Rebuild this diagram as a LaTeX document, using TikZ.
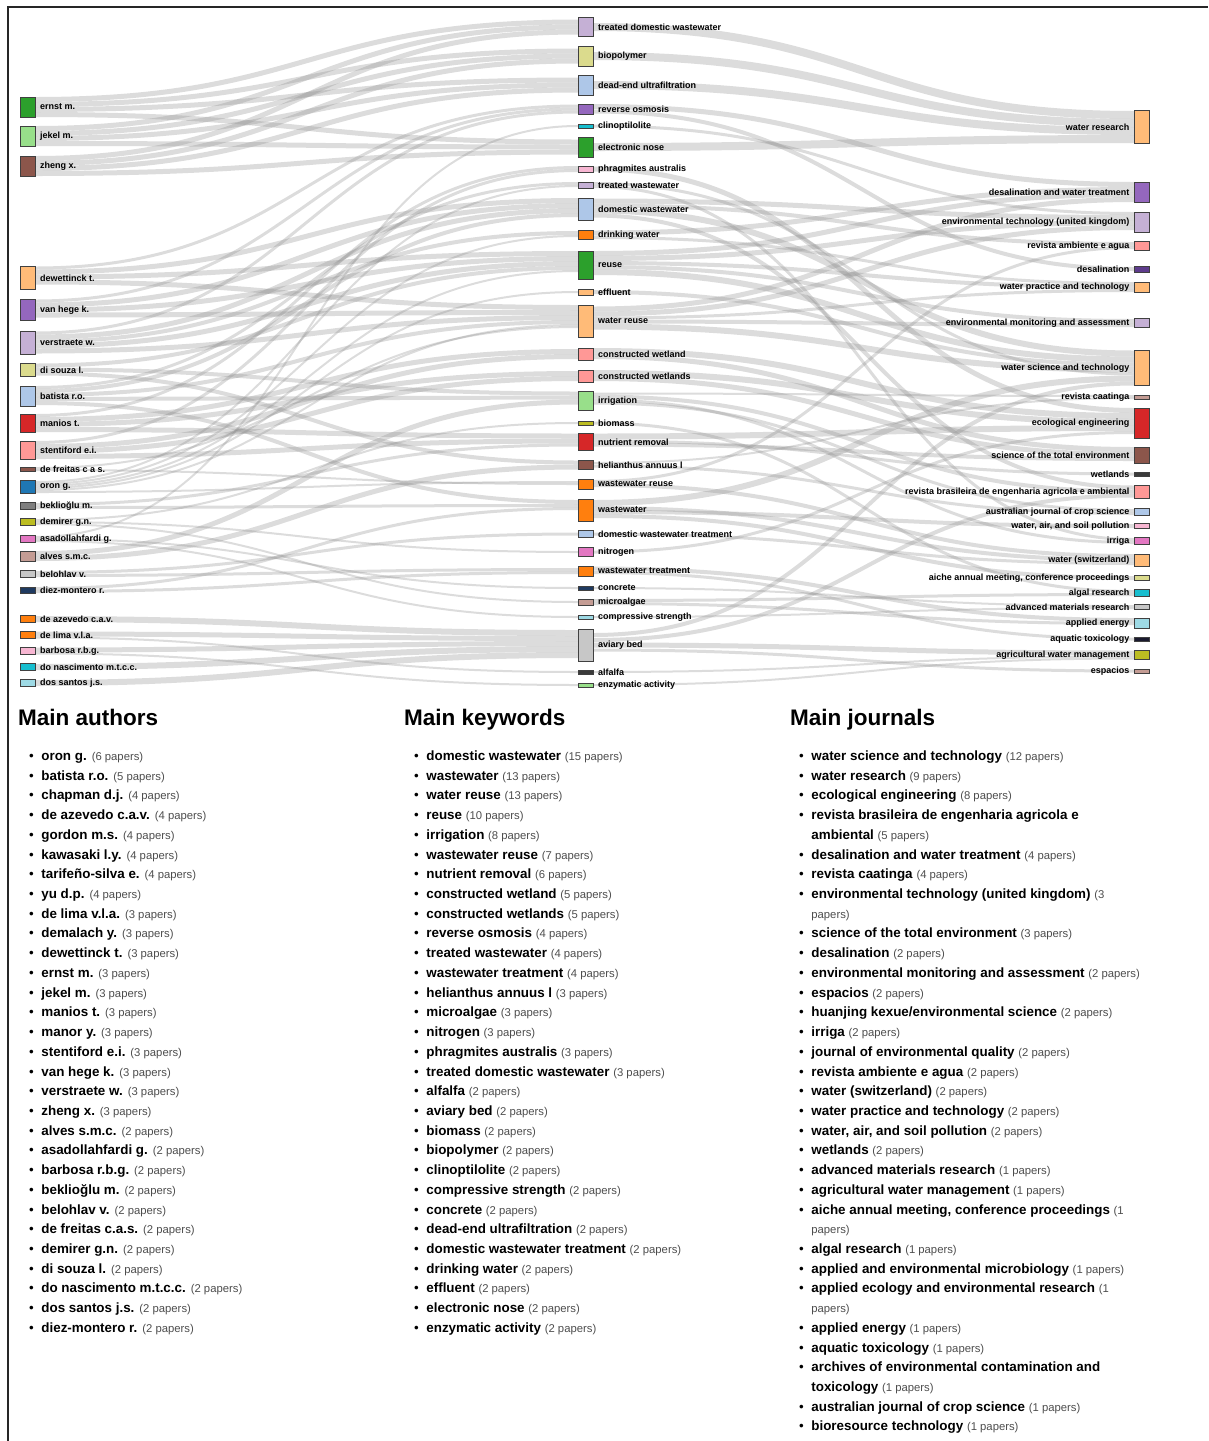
\documentclass[tikz,border=0pt]{standalone}
\usepackage{fontspec}
\setmainfont{Liberation Sans}
\usetikzlibrary{positioning}
\pgfdeclarelayer{bg}
\pgfsetlayers{bg,main}

\definecolor{c1}{HTML}{1F77B4}\definecolor{c2}{HTML}{AEC7E8}
\definecolor{c3}{HTML}{FF7F0E}\definecolor{c4}{HTML}{FFBB78}
\definecolor{c5}{HTML}{2CA02C}\definecolor{c6}{HTML}{98DF8A}
\definecolor{c7}{HTML}{D62728}\definecolor{c8}{HTML}{FF9896}
\definecolor{c9}{HTML}{9467BD}\definecolor{c10}{HTML}{C5B0D5}
\definecolor{c11}{HTML}{8C564B}\definecolor{c12}{HTML}{C49C94}
\definecolor{c13}{HTML}{E377C2}\definecolor{c14}{HTML}{F7B6D2}
\definecolor{c15}{HTML}{7F7F7F}\definecolor{c16}{HTML}{C7C7C7}
\definecolor{c17}{HTML}{BCBD22}\definecolor{c18}{HTML}{DBDB8D}
\definecolor{c19}{HTML}{17BECF}\definecolor{c20}{HTML}{9EDAE5}
\definecolor{cnavy}{HTML}{1F3A60}\definecolor{cdpur}{HTML}{5E3C8C}
\definecolor{cdark}{HTML}{3A3A3A}\definecolor{cblk}{HTML}{1A1A2E}
\definecolor{pgray}{HTML}{4D4D4D}

\newcommand{\gr}[1]{{\fontsize{11.3}{13}\selectfont\color{pgray}#1}}
\newcommand{\ent}[2]{\textbullet & \textbf{#1} \gr{(#2 papers)}\\}

\tikzset{
  bx/.style={draw=black!75, line width=0.8pt, minimum width=15pt, inner sep=0pt, outer sep=0pt},
  alab/.style={font=\fontsize{9}{10}\selectfont\bfseries, inner sep=0pt},
  lnk/.style={draw=black!45, draw opacity=0.3},
  hd/.style={font=\fontsize{22.5}{26}\selectfont\bfseries, inner sep=0pt},
  lst/.style={font=\fontsize{13.4}{19.72}\selectfont, inner sep=0pt}
}

\begin{document}
\begin{tikzpicture}[x=1pt,y=-1pt]
\useasboundingbox (0,0) rectangle (1208,1441);
\draw[line width=1.6pt, black!85] (8,1441) -- (8,7) -- (1208,7);

%% authors
\foreach \nm/\yy/\hh/\col/\lbl in {ernst/107/20/c5/ernst m., jekel/136/20/c6/jekel m., zheng/166/20/c11/zheng x.,
  dewet/278/23/c4/dewettinck t., vanhege/310/21/c9/van hege k., verstr/343/23/c10/verstraete w.,
  disouza/370/13/c18/di souza l., batista/396/20/c2/batista r.o., manios/423/18/c7/manios t.,
  stent/450/18/c8/stentiford e.i., defreitas/469/4/c11/de freitas c a s., oron/487/13/c1/oron g.,
  beklio/506/7/c15/beklioğlu m., demirer/522/7/c17/demirer g.n., asadol/539/7/c13/asadollahfardi g.,
  alves/556/10/c12/alves s.m.c., belohlav/574/7/c16/belohlav v., diez/590/6/cnavy/diez-montero r.,
  deazev/619/7/c3/de azevedo c.a.v., delima/635/7/c3/de lima v.l.a., barbosa/651/7/c14/barbosa r.b.g.,
  donasc/667/7/c19/do nascimento m.t.c.c., dossantos/683/7/c20/dos santos j.s.}{
  \node[bx, fill=\col, minimum height=\hh pt] (\nm) at (27.5,\yy) {};
  \node[alab, right=5pt of \nm] (\nm-l) {\lbl};
}

%% keywords
\foreach \nm/\yy/\hh/\col/\lbl in {tdw/27/19/c10/treated domestic wastewater, biopol/56/20/c18/biopolymer,
  deadend/85/20/c2/dead-end ultrafiltration, revosm/109/10/c9/reverse osmosis, clino/126/4/c19/clinoptilolite,
  enose/147/20/c5/electronic nose, phrag/169/6/c14/phragmites australis, tww/185/6/c10/treated wastewater,
  domww/209/22/c2/domestic wastewater, drink/235/9/c3/drinking water, reuse/265/28/c5/reuse,
  effl/292/6/c4/effluent, wreuse/321/32/c4/water reuse, cw/354/12/c8/constructed wetland,
  cws/376/12/c8/constructed wetlands, irrig/401/19/c6/irrigation, biomass/423/4/c17/biomass,
  nutrem/442/17/c7/nutrient removal, helian/465/9/c11/helianthus annuus l, wwreuse/484/10/c3/wastewater reuse,
  ww/510/22/c3/wastewater, dwwt/534/7/c2/domestic wastewater treatment, nitro/552/9/c13/nitrogen,
  wwtreat/571/10/c3/wastewater treatment, concr/588/4/cnavy/concrete, microalg/602/6/c12/microalgae,
  compr/617/4/c20/compressive strength, aviary/645/32/c16/aviary bed, alfalfa/672/4/cdark/alfalfa,
  enzym/685/4/c6/enzymatic activity}{
  \node[bx, fill=\col, minimum height=\hh pt] (\nm) at (585.5,\yy) {};
  \node[alab, right=5pt of \nm] (\nm-l) {\lbl};
}

%% journals
\foreach \nm/\yy/\hh/\col/\lbl in {wr/127/33/c4/water research, dwt/192/20/c9/desalination and water treatment,
  etuk/222/20/c10/environmental technology (united kingdom), raa/246/9/c8/revista ambiente e agua,
  desal/269/6/cdpur/desalination, wpt/287/10/c4/water practice and technology,
  ema/323/9/c10/environmental monitoring and assessment, wst/368/35/c4/water science and technology,
  rc/397/4/c12/revista caatinga, ee/423/30/c7/ecological engineering,
  stoe/455/16/c11/science of the total environment, wet/474/4/cdark/wetlands,
  rbea/492/13/c8/revista brasileira de engenharia agricola e ambiental,
  ajcs/512/7/c2/australian journal of crop science, wasp/526/5/c14/{water, air, and soil pollution},
  irriga/541/7/c13/irriga, wsw/560/12/c4/water (switzerland),
  aiche/578/5/c18/{aiche annual meeting, conference proceedings}, algal/593/7/c19/algal research,
  amr/607/5/c16/advanced materials research, ae/623/10/c20/applied energy, aqt/639/4/cblk/aquatic toxicology,
  awm/655/9/c17/agricultural water management, esp/671/4/c12/espacios}{
  \node[bx, fill=\col, minimum height=\hh pt] (\nm) at (1142,\yy) {};
  \node[alab, left=5pt of \nm] (\nm-l) {\lbl};
}

\begin{pgfonlayer}{bg}
%% authors -> keywords
\foreach \a/\da/\b/\db/\w in {ernst/-7.5/tdw/-5/5, ernst/-2.5/biopol/-5/5, ernst/2.5/deadend/-5/5, ernst/7.5/enose/-5/5,
  jekel/-7.5/tdw/0/5, jekel/-2.5/biopol/0/5, jekel/2.5/deadend/0/5, jekel/7.5/enose/0/5,
  zheng/-7.5/tdw/5/5, zheng/-2.5/biopol/5/5, zheng/2.5/deadend/5/5, zheng/7.5/enose/5/5,
  dewet/-10/revosm/-3/3, dewet/-6/domww/-8.5/5, dewet/-1/reuse/-11.5/5, dewet/4/wreuse/-13.5/5,
  vanhege/-9/revosm/0/3, vanhege/-5/domww/-3.5/5, vanhege/0/reuse/-6.5/5, vanhege/5/wreuse/-8.5/5,
  verstr/-10/revosm/3/3, verstr/-6/domww/1.5/5, verstr/-1.5/drink/-2/4, verstr/3/reuse/-1.5/5, verstr/8/wreuse/-3.5/5,
  disouza/-4.5/reuse/3/4, disouza/-0.5/irrig/-7.5/4, disouza/3.5/helian/-2.5/4,
  batista/-8.5/tww/-1.5/3, batista/-5/domww/6/4, batista/-1/wreuse/1/4, batista/3/irrig/-3.5/4, batista/7/ww/-8/4,
  manios/-7.5/phrag/-1.5/3, manios/-3.5/cw/-2.5/5, manios/1.5/cws/-2.5/5, manios/6.5/nutrem/-6/5,
  stent/-7.5/phrag/1.5/3, stent/-3.5/cw/2.5/5, stent/1.5/cws/2.5/5, stent/6.5/nutrem/-1/5,
  defreitas/-1/wreuse/6/2, defreitas/1/wwreuse/0/2,
  oron/-5/tww/1/2, oron/-3/drink/1/2, oron/-1/reuse/6/2, oron/1/effl/0/2, oron/3/wreuse/4/2, oron/5/wwreuse/-2/2,
  beklio/-1.5/nutrem/3/3, beklio/1.5/ww/-4.5/3,
  demirer/-2/biomass/0/2, demirer/0/nitro/0/2, demirer/2/microalg/0/2,
  asadol/-2/clino/0/2, asadol/0/concr/0/2, asadol/2/compr/0/2,
  alves/-2.5/irrig/1/5, alves/2.5/helian/2/5,
  belohlav/-1.5/dwwt/0/3, belohlav/1.5/wwtreat/-1.5/3,
  diez/-1.5/ww/-1.5/3, diez/1.5/wwtreat/1.5/3,
  deazev/0/aviary/-12/6, delima/-1/aviary/-6.5/5, delima/2.5/alfalfa/0/2, barbosa/-1/aviary/-1.5/5,
  barbosa/2.5/enzym/0/2, donasc/0/aviary/4/6, dossantos/0/aviary/10/6}
  \draw[lnk, line width=\w pt] ([yshift={-(\da)*1pt}]\a.east) .. controls +(271,0) and +(-271,0) .. ([yshift={-(\db)*1pt}]\b.west);

%% keywords -> journals
\foreach \a/\da/\b/\db/\w in {tdw/0/wr/-12/8, biopol/0/wr/-4/8, deadend/0/wr/4/8, enose/0/wr/12/8,
  revosm/-2.5/dwt/-7.5/5, revosm/2.5/desal/0/4, clino/0/etuk/-8.5/3, phrag/0/ee/-12.5/5,
  tww/-1.5/wst/6/3, tww/1.5/irriga/-1.5/3,
  domww/-8/etuk/-4.5/5, domww/-3.5/raa/-2/4, domww/1.5/wst/-14.5/6, domww/6.5/rbea/-4.5/4,
  drink/-2/dwt/-2.5/5, drink/2.5/wpt/-3.5/3,
  reuse/-11.5/dwt/2.5/5, reuse/-6.5/etuk/0.5/5, reuse/-2/wpt/0/4, reuse/2/ema/-2/4, reuse/7/wst/-8.5/6,
  effl/0/wst/-3.5/4,
  wreuse/-12/dwt/7.5/5, wreuse/-7/etuk/5.5/5, wreuse/-3/wpt/3.5/3, wreuse/0.5/ema/2/4, wreuse/5.5/wst/1.5/6,
  cw/-3/ee/-7/6, cw/2.5/stoe/-5.5/5, cws/-3/ee/-1/6, cws/2.5/stoe/-0.5/5,
  irrig/-7.5/rc/-1/2, irrig/-4.5/rbea/-0.5/4, irrig/-1/irriga/1.5/3, irrig/2/ajcs/-1.5/3,
  biomass/0/algal/-1.5/3,
  nutrem/-5.5/ee/5/6, nutrem/-1/wet/0/3, nutrem/2.5/stoe/4/4,
  helian/-2/rc/1/2, helian/1/ajcs/1.5/3,
  wwreuse/-2.5/raa/1.5/3, wwreuse/1/wsw/-4/4,
  ww/-7/wst/10.5/6, ww/-2/wsw/0/4, ww/2/wasp/0/4, ww/6/aiche/0/4,
  dwwt/0/wsw/3.5/3, nitro/0/ee/9.5/3,
  wwtreat/-2.5/ae/-3/4, wwtreat/1.5/aqt/0/3,
  concr/0/amr/-1/2, microalg/-1.5/algal/1.5/3, microalg/1.5/ae/0.5/3, compr/0/amr/1/2,
  aviary/-10/wst/15.5/4, aviary/-5/rbea/3.5/4, aviary/0/awm/-2/5, aviary/5/esp/0/3,
  alfalfa/0/awm/1.5/2, enzym/0/awm/3.5/2}
  \draw[lnk, line width=\w pt] ([yshift={-(\da)*1pt}]\a.east) .. controls +(271,0) and +(-271,0) .. ([yshift={-(\db)*1pt}]\b.west);
\end{pgfonlayer}

%% lists below
\node[hd, anchor=base west] (hauth) at (18,725) {Main authors};
\node[hd, anchor=base west] (hkey) at (404,725) {Main keywords};
\node[hd, anchor=base west] (hjour) at (790,725) {Main journals};

\node[lst, anchor=base west] (lauth) at (29,760.5) {\begin{tabular}[t]{@{}l@{\hspace{7.5pt}}l@{}}
\ent{oron g.}{6}\ent{batista r.o.}{5}\ent{chapman d.j.}{4}\ent{de azevedo c.a.v.}{4}
\ent{gordon m.s.}{4}\ent{kawasaki l.y.}{4}\ent{tarifeño-silva e.}{4}\ent{yu d.p.}{4}
\ent{de lima v.l.a.}{3}\ent{demalach y.}{3}\ent{dewettinck t.}{3}\ent{ernst m.}{3}
\ent{jekel m.}{3}\ent{manios t.}{3}\ent{manor y.}{3}\ent{stentiford e.i.}{3}
\ent{van hege k.}{3}\ent{verstraete w.}{3}\ent{zheng x.}{3}\ent{alves s.m.c.}{2}
\ent{asadollahfardi g.}{2}\ent{barbosa r.b.g.}{2}\ent{beklioğlu m.}{2}\ent{belohlav v.}{2}
\ent{de freitas c.a.s.}{2}\ent{demirer g.n.}{2}\ent{di souza l.}{2}\ent{do nascimento m.t.c.c.}{2}
\ent{dos santos j.s.}{2}\ent{diez-montero r.}{2}
\end{tabular}};

\node[lst, anchor=base west] (lkey) at (414,760.5) {\begin{tabular}[t]{@{}l@{\hspace{7.5pt}}l@{}}
\ent{domestic wastewater}{15}\ent{wastewater}{13}\ent{water reuse}{13}\ent{reuse}{10}
\ent{irrigation}{8}\ent{wastewater reuse}{7}\ent{nutrient removal}{6}\ent{constructed wetland}{5}
\ent{constructed wetlands}{5}\ent{reverse osmosis}{4}\ent{treated wastewater}{4}\ent{wastewater treatment}{4}
\ent{helianthus annuus l}{3}\ent{microalgae}{3}\ent{nitrogen}{3}\ent{phragmites australis}{3}
\ent{treated domestic wastewater}{3}\ent{alfalfa}{2}\ent{aviary bed}{2}\ent{biomass}{2}
\ent{biopolymer}{2}\ent{clinoptilolite}{2}\ent{compressive strength}{2}\ent{concrete}{2}
\ent{dead-end ultrafiltration}{2}\ent{domestic wastewater treatment}{2}\ent{drinking water}{2}
\ent{effluent}{2}\ent{electronic nose}{2}\ent{enzymatic activity}{2}
\end{tabular}};

\node[lst, anchor=base west] (ljour) at (799,760.5) {\begin{tabular}[t]{@{}l@{\hspace{7.5pt}}l@{}}
\ent{water science and technology}{12}\ent{water research}{9}\ent{ecological engineering}{8}
\textbullet & \textbf{revista brasileira de engenharia agricola e}\\
 & \textbf{ambiental} \gr{(5 papers)}\\
\ent{desalination and water treatment}{4}\ent{revista caatinga}{4}
\textbullet & \textbf{environmental technology (united kingdom)} \gr{(3}\\
 & \gr{papers)}\\
\ent{science of the total environment}{3}\ent{desalination}{2}
\ent{environmental monitoring and assessment}{2}\ent{espacios}{2}
\ent{huanjing kexue/environmental science}{2}\ent{irriga}{2}\ent{journal of environmental quality}{2}
\ent{revista ambiente e agua}{2}\ent{water (switzerland)}{2}\ent{water practice and technology}{2}
\ent{water, air, and soil pollution}{2}\ent{wetlands}{2}\ent{advanced materials research}{1}
\ent{agricultural water management}{1}
\textbullet & \textbf{aiche annual meeting, conference proceedings} \gr{(1}\\
 & \gr{papers)}\\
\ent{algal research}{1}\ent{applied and environmental microbiology}{1}
\textbullet & \textbf{applied ecology and environmental research} \gr{(1}\\
 & \gr{papers)}\\
\ent{applied energy}{1}\ent{aquatic toxicology}{1}
\textbullet & \textbf{archives of environmental contamination and}\\
 & \textbf{toxicology} \gr{(1 papers)}\\
\ent{australian journal of crop science}{1}\ent{bioresource technology}{1}
\end{tabular}};
\end{tikzpicture}
\end{document}
